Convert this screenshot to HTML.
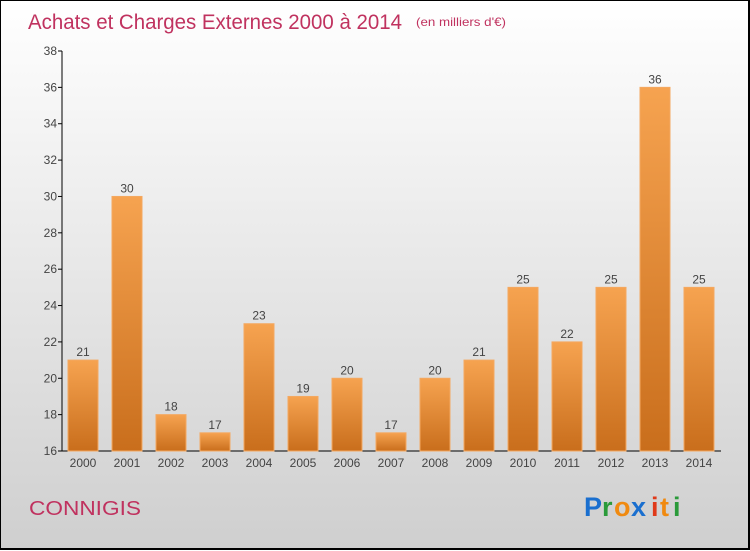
<!DOCTYPE html>
<html><head><meta charset="utf-8"><style>
html,body{margin:0;padding:0}
body{width:750px;height:550px;overflow:hidden;font-family:"Liberation Sans",sans-serif}
#wrap{position:absolute;left:0;top:0;border:1px solid #000;border-right-width:2px;border-bottom-width:2px;box-sizing:border-box;width:750px;height:550px;background:linear-gradient(#ffffff,#cfcfcf)}
</style></head><body>
<div id="wrap">
<svg width="750" height="550" style="position:absolute;left:0;top:0">
<defs><linearGradient id="bg" x1="0" y1="0" x2="0" y2="1"><stop offset="0" stop-color="#f6a350"/><stop offset="1" stop-color="#c96e1c"/></linearGradient></defs>
<text x="27" y="28" font-size="21" fill="#c0325f" textLength="374" lengthAdjust="spacingAndGlyphs">Achats et Charges Externes 2000 à 2014</text>
<text x="415" y="25" font-size="12" fill="#c0325f" textLength="90" lengthAdjust="spacingAndGlyphs">(en milliers d'€)</text>
<g id="axes"></g><g id="bars"></g>
<text x="28" y="514" font-size="20" fill="#c0325f" textLength="112" lengthAdjust="spacingAndGlyphs">CONNIGIS</text>
<g font-size="27" font-family="Liberation Sans" font-weight="bold">
<text x="583" y="515" fill="#1a6fcf">P</text><text x="601" y="515" fill="#2a9a3a">r</text><text x="613" y="515" fill="#f08a10">o</text><text x="630" y="515" fill="#1a6fcf">x</text><text x="650" y="515" fill="#e03a1a">i</text><text x="659" y="515" fill="#f08a10">t</text><text x="672" y="515" fill="#2a9a3a">i</text>
</g>
</svg></div>
<script>
const years=["2000","2001","2002","2003","2004","2005","2006","2007","2008","2009","2010","2011","2012","2013","2014"];
const values=[21,30,18,17,23,19,20,17,20,21,25,22,25,36,25];
const yTicks=[16,18,20,22,24,26,28,30,32,34,36,38];
const NS="http://www.w3.org/2000/svg";
const y=v=>450-(v-16)*400/22;
const x=i=>82+i*44;
const ax=document.getElementById('axes'),bg=document.getElementById('bars');
function mk(t,a,p){const e=document.createElementNS(NS,t);for(const k in a)e.setAttribute(k,a[k]);p.appendChild(e);return e;}
let l=mk('line',{x1:61,y1:50,x2:61,y2:450,stroke:'#000'},ax);


l=mk('line',{x1:61,y1:450,x2:720,y2:450,stroke:'#000'},ax);


yTicks.forEach(v=>{
 mk('line',{x1:57,y1:y(v),x2:61,y2:y(v),stroke:'#000'},ax);
 const t=mk('text',{x:56,y:y(v)+4,'text-anchor':'end','font-size':12,fill:'#444'},ax);t.textContent=v;
 
 
});
years.forEach((yr,i)=>{
 const v=values[i];
 const r=mk('rect',{x:x(i)-15,y:y(v),width:30,height:450-y(v),fill:'url(#bg)',stroke:'#f4a860','stroke-width':1},bg);
 
 
 const t=mk('text',{x:x(i),y:y(v)-4,'text-anchor':'middle','font-size':12,fill:'#444'},bg);t.textContent=v;
 
 
 const c=mk('text',{x:x(i),y:466,'text-anchor':'middle','font-size':12,fill:'#444'},bg);c.textContent=yr;
 
 
});
</script>
</body></html>
